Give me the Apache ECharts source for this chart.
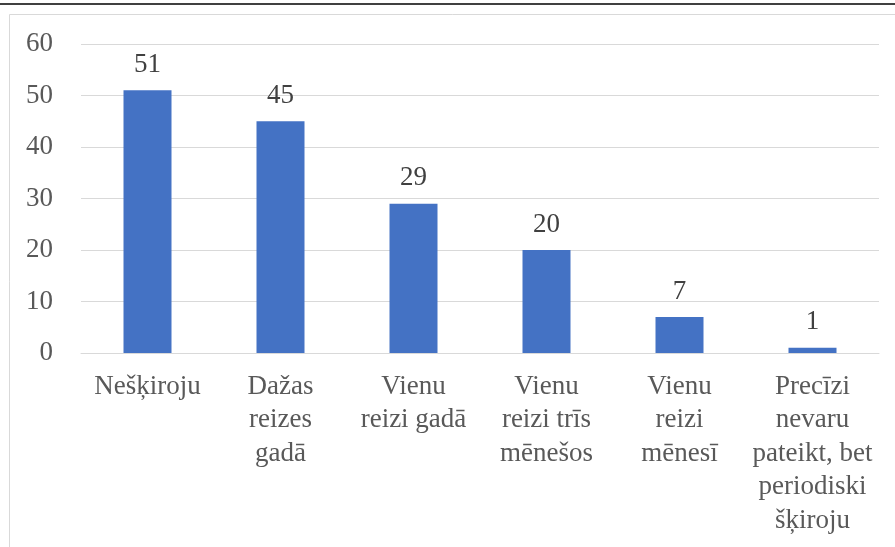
<!DOCTYPE html>
<html>
<head>
<meta charset="utf-8">
<style>
  html, body { margin: 0; padding: 0; background: #fff; }
  #chart { width: 895px; height: 547px; }
</style>
<script src="https://cdn.jsdelivr.net/npm/echarts@6/dist/echarts.min.js"></script>
</head>
<body>
<div id="chart"></div>
<script>
var categories = [
    'Nešķiroju',
    'Dažas\nreizes\ngadā',
    'Vienu\nreizi gadā',
    'Vienu\nreizi trīs\nmēnešos',
    'Vienu\nreizi\nmēnesī',
    'Precīzi\nnevaru\npateikt, bet\nperiodiski\nšķiroju'
]
var counts = [51, 45, 29, 20, 7, 1]
var yTicks = [0, 10, 20, 30, 40, 50, 60]

var font = '"Liberation Serif", "Times New Roman", serif'
var chart = echarts.init(document.getElementById('chart'))

chart.setOption({
    animation: false,
    backgroundColor: '#fff',
    graphic: [
        {
            type: 'rect',
            shape: { x: 9.5, y: 14.5, width: 900, height: 560 },
            style: { fill: 'none', stroke: '#d9d9d9', lineWidth: 1 },
            silent: true
        },
        {
            type: 'line',
            shape: { x1: 0, y1: 4, x2: 895, y2: 4 },
            style: { stroke: '#000', lineWidth: 1.5 },
            silent: true
        }
    ],
    grid: { left: 81, right: 16, top: 44, bottom: 194 },
    xAxis: {
        type: 'category',
        data: categories,
        axisTick: { show: false },
        axisLine: { lineStyle: { color: '#d9d9d9', width: 1 } },
        axisLabel: {
            interval: 0,
            margin: 17,
            color: '#595959',
            fontFamily: font,
            fontSize: 27,
            lineHeight: 33.5,
            align: 'center'
        }
    },
    yAxis: {
        type: 'value',
        min: yTicks[0],
        max: yTicks[yTicks.length - 1],
        interval: 10,
        axisLine: { show: false },
        axisTick: { show: false },
        splitLine: { lineStyle: { color: '#d9d9d9', width: 1 } },
        axisLabel: {
            margin: 28,
            color: '#595959',
            fontFamily: font,
            fontSize: 27
        }
    },
    series: [{
        type: 'bar',
        data: counts,
        barWidth: 48,
        itemStyle: { color: '#4472c4' },
        label: {
            show: true,
            position: 'top',
            distance: 12,
            color: '#404040',
            fontFamily: font,
            fontSize: 27
        }
    }]
})
</script>
</body>
</html>
